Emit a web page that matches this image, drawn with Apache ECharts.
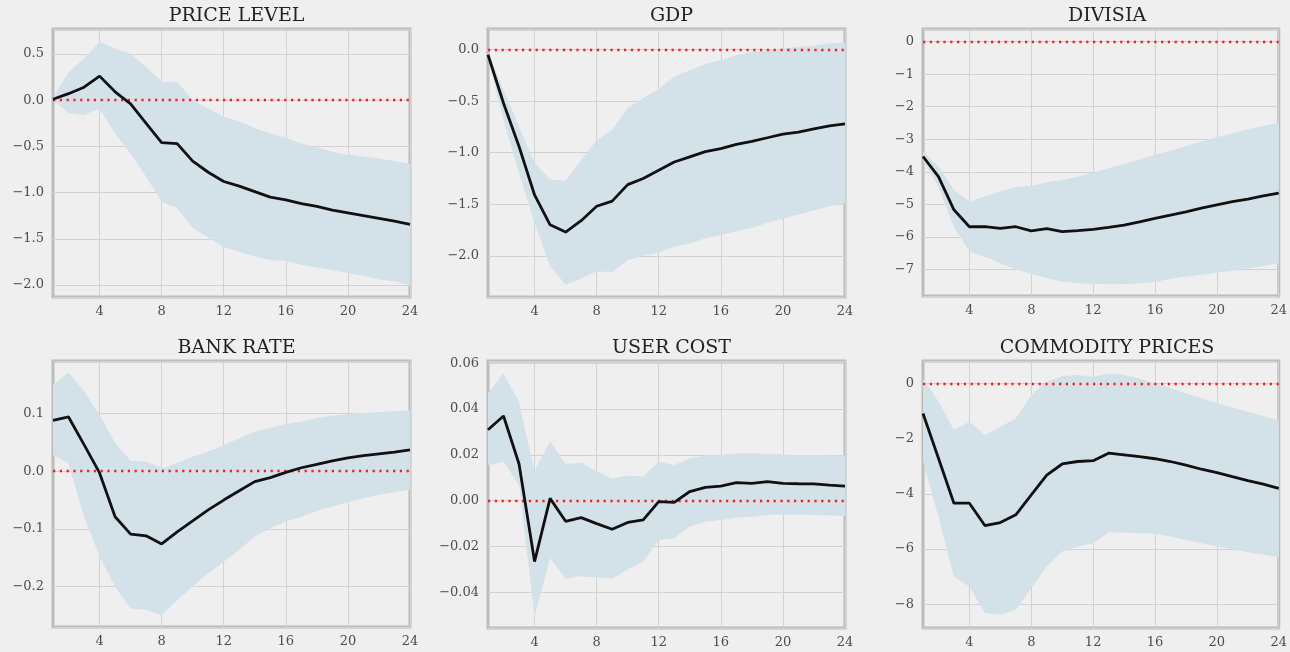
<!DOCTYPE html>
<html>
<head>
<meta charset="utf-8">
<script src="https://cdn.jsdelivr.net/npm/echarts@6/dist/echarts.min.js"></script>
<style>
html,body{margin:0;padding:0;background:#efefef;}
#chart{width:1290px;height:652px;}
</style>
</head>
<body>
<div id="chart"></div>
<script>
const periods = ['1','2','3','4','5','6','7','8','9','10','11','12','13','14','15','16','17','18','19','20','21','22','23','24'];
const titles = ['PRICE LEVEL','GDP','DIVISIA','BANK RATE','USER COST','COMMODITY PRICES'];

const priceMean  = [0.01,0.07,0.14,0.26,0.09,-0.04,-0.25,-0.46,-0.47,-0.66,-0.78,-0.88,-0.93,-0.99,-1.05,-1.08,-1.12,-1.15,-1.19,-1.22,-1.25,-1.28,-1.31,-1.345];
const priceUpper = [0.03,0.30,0.45,0.63,0.56,0.50,0.36,0.20,0.20,0.00,-0.09,-0.18,-0.23,-0.30,-0.36,-0.41,-0.47,-0.51,-0.56,-0.59,-0.61,-0.63,-0.66,-0.69];
const priceLower = [0.00,-0.14,-0.16,-0.09,-0.36,-0.58,-0.83,-1.10,-1.17,-1.38,-1.49,-1.59,-1.64,-1.69,-1.73,-1.74,-1.78,-1.81,-1.84,-1.87,-1.90,-1.94,-1.96,-2.00];

const gdpMean  = [-0.05,-0.52,-0.94,-1.41,-1.70,-1.77,-1.66,-1.52,-1.47,-1.31,-1.25,-1.17,-1.09,-1.04,-0.99,-0.96,-0.92,-0.89,-0.855,-0.82,-0.80,-0.77,-0.74,-0.72];
const gdpUpper = [-0.03,-0.39,-0.75,-1.10,-1.26,-1.27,-1.07,-0.88,-0.78,-0.57,-0.47,-0.38,-0.26,-0.20,-0.14,-0.10,-0.055,-0.02,-0.01,0.01,0.025,0.04,0.06,0.07];
const gdpLower = [-0.09,-0.68,-1.20,-1.68,-2.10,-2.28,-2.22,-2.15,-2.16,-2.04,-2.00,-1.97,-1.91,-1.88,-1.83,-1.80,-1.76,-1.73,-1.68,-1.64,-1.60,-1.56,-1.52,-1.49];

const divisiaMean  = [-3.53,-4.15,-5.17,-5.69,-5.69,-5.74,-5.69,-5.82,-5.75,-5.84,-5.81,-5.77,-5.71,-5.64,-5.54,-5.43,-5.33,-5.23,-5.12,-5.02,-4.92,-4.84,-4.74,-4.66];
const divisiaUpper = [-3.38,-3.84,-4.56,-4.92,-4.76,-4.61,-4.46,-4.44,-4.32,-4.25,-4.15,-4.02,-3.89,-3.76,-3.62,-3.48,-3.35,-3.21,-3.07,-2.94,-2.82,-2.69,-2.59,-2.49];
const divisiaLower = [-3.64,-4.46,-5.69,-6.45,-6.61,-6.81,-7.00,-7.14,-7.27,-7.38,-7.43,-7.45,-7.46,-7.46,-7.43,-7.38,-7.30,-7.22,-7.17,-7.10,-7.04,-6.97,-6.90,-6.81];

const bankMean  = [0.088,0.094,0.046,-0.003,-0.079,-0.109,-0.112,-0.126,-0.105,-0.086,-0.067,-0.050,-0.034,-0.018,-0.011,-0.002,0.006,0.012,0.018,0.023,0.027,0.030,0.033,0.037];
const bankUpper = [0.150,0.171,0.138,0.098,0.049,0.018,0.017,0.005,0.014,0.025,0.034,0.045,0.057,0.069,0.075,0.082,0.086,0.092,0.096,0.099,0.101,0.102,0.104,0.105];
const bankLower = [0.028,0.014,-0.079,-0.148,-0.200,-0.238,-0.240,-0.249,-0.223,-0.200,-0.177,-0.157,-0.136,-0.113,-0.099,-0.087,-0.079,-0.069,-0.061,-0.054,-0.047,-0.041,-0.036,-0.032];

const userMean  = [0.031,0.037,0.016,-0.0266,0.001,-0.009,-0.0074,-0.010,-0.0125,-0.0095,-0.0084,-0.0004,-0.0007,0.004,0.0058,0.0064,0.0079,0.0076,0.0083,0.0076,0.0074,0.0073,0.0068,0.0064];
const userUpper = [0.047,0.0556,0.043,0.013,0.026,0.016,0.0166,0.0127,0.0097,0.011,0.0105,0.017,0.0156,0.0185,0.0196,0.020,0.0207,0.0207,0.0204,0.0202,0.020,0.020,0.0198,0.0196];
const userLower = [0.0156,0.017,0.0068,-0.0506,-0.025,-0.034,-0.033,-0.0335,-0.034,-0.030,-0.0266,-0.0172,-0.0164,-0.0113,-0.0092,-0.0084,-0.0074,-0.007,-0.0063,-0.006,-0.006,-0.0063,-0.0065,-0.0067];

const commMean  = [-1.09,-2.71,-4.34,-4.34,-5.15,-5.04,-4.76,-4.04,-3.32,-2.92,-2.83,-2.80,-2.53,-2.59,-2.65,-2.73,-2.83,-2.96,-3.11,-3.23,-3.38,-3.52,-3.65,-3.80];
const commUpper = [0.18,-0.66,-1.69,-1.39,-1.87,-1.57,-1.27,-0.42,0.06,0.27,0.30,0.24,0.36,0.30,0.18,0.00,-0.18,-0.36,-0.54,-0.72,-0.87,-1.03,-1.18,-1.35];
const commLower = [-2.83,-4.83,-7.00,-7.36,-8.32,-8.38,-8.20,-7.42,-6.63,-6.09,-5.91,-5.79,-5.39,-5.40,-5.43,-5.45,-5.55,-5.67,-5.79,-5.91,-6.01,-6.12,-6.21,-6.30];

const yMins = [-2.13,-2.40,-7.82,-0.270,-0.0556,-8.86];
const yMaxs = [0.77,0.20,0.39,0.191,0.061,0.81];
const ySplits = [5,5,8,5,5,5];
const yDecimals = [1,1,0,1,2,0];

const means  = [priceMean,gdpMean,divisiaMean,bankMean,userMean,commMean];
const uppers = [priceUpper,gdpUpper,divisiaUpper,bankUpper,userUpper,commUpper];
const lowers = [priceLower,gdpLower,divisiaLower,bankLower,userLower,commLower];

const panels = [
  {left:53, top:29, width:357, height:268},
  {left:488, top:29, width:357, height:268},
  {left:923, top:29, width:358, height:267},
  {left:53, top:361, width:357, height:266},
  {left:488, top:361, width:357, height:267},
  {left:923, top:361, width:358, height:267}
];

const FONT = 'DejaVu Serif';
const chart = echarts.init(document.getElementById('chart'), null, {renderer:'canvas'});

const grid = [], xAxis = [], yAxis = [], series = [], title = [];
panels.forEach((p, i) => {
  grid.push({left:p.left, top:p.top, width:p.width, height:p.height, show:true,
    backgroundColor:'#efefef', borderColor:'#bcbcbc', borderWidth:3});
  title.push({text:titles[i], left:p.left + p.width/2, textAlign:'center', top:p.top - 27,
    textStyle:{fontFamily:FONT, fontSize:19, fontWeight:'normal', color:'#222'}});
  const every4 = (idx, v) => Number(v) % 4 === 0;
  xAxis.push({type:'category', gridIndex:i, data:periods, boundaryGap:false,
    axisLine:{show:false}, axisTick:{show:false},
    axisLabel:{interval:every4, color:'#4d4d4d', fontFamily:FONT, fontSize:13, margin:8},
    splitLine:{show:true, interval:every4, lineStyle:{color:'#d2d2d2', width:1}}});
  const dec = yDecimals[i];
  yAxis.push({type:'value', gridIndex:i, min:yMins[i], max:yMaxs[i], splitNumber:ySplits[i],
    axisLine:{show:false}, axisTick:{show:false},
    axisLabel:{color:'#4d4d4d', fontFamily:FONT, fontSize:13, margin:9, showMinLabel:false, showMaxLabel:false,
      formatter: v => { const s = Math.abs(v) < 1e-12 ? (0).toFixed(dec) : v.toFixed(dec); return s.replace('-', '\u2212'); }},
    splitLine:{show:true, lineStyle:{color:'#d2d2d2', width:1}}});
  const diff = uppers[i].map((u, k) => u - lowers[i][k]);
  series.push({type:'line', xAxisIndex:i, yAxisIndex:i, data:lowers[i], stack:'band'+i, stackStrategy:'all',
    symbol:'none', lineStyle:{opacity:0}, silent:true, z:1});
  series.push({type:'line', xAxisIndex:i, yAxisIndex:i, data:diff, stack:'band'+i, stackStrategy:'all',
    symbol:'none', lineStyle:{opacity:0}, areaStyle:{color:'#d3e1e8', opacity:1}, silent:true, z:1});
  series.push({type:'line', xAxisIndex:i, yAxisIndex:i, data:means[i], symbol:'none',
    lineStyle:{color:'#111', width:2.8}, z:3,
    markLine:{silent:true, symbol:'none', label:{show:false},
      lineStyle:{color:'#ff1a1a', type:[2.2,4.6], width:2.4, cap:'butt'},
      data:[{yAxis:0}], z:2}});
});

chart.setOption({backgroundColor:'#efefef', animation:false, title, grid, xAxis, yAxis, series});
</script>
</body>
</html>
